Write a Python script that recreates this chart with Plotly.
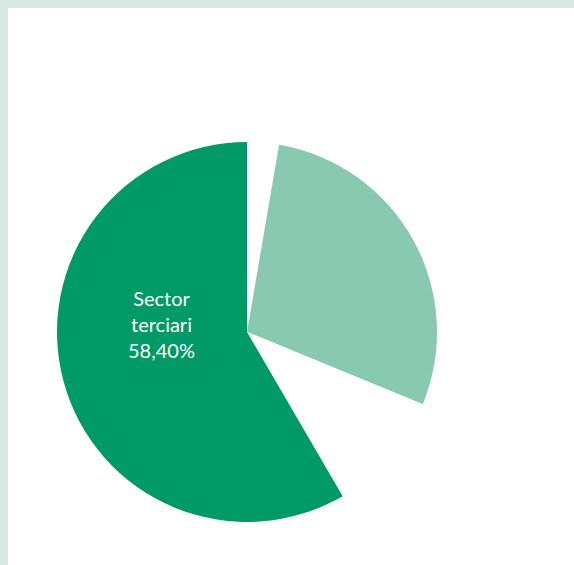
import plotly.graph_objects as go

# sectors, clockwise from 12 o'clock
labels = ["Sector primari", "Indústria", "Construcció", "Sector terciari"]
values = [2.70, 28.50, 10.40, 58.40]
colors = ["#ffffff", "#89c9b0", "#ffffff", "#009a66"]

BORDER = "#d6eae2"
W, H = 574, 565

fig = go.Figure(go.Pie(
    labels=labels, values=values, sort=False, direction="clockwise",
    rotation=0,
    marker=dict(colors=colors, line=dict(width=0)),
    textinfo="none",
    domain=dict(x=[57 / W, 437 / W], y=[43 / H, 423 / H]),
    hoverinfo="label+percent",
))

# white card, leaving a light green edge on top and left
fig.add_shape(type="rect", xref="paper", yref="paper",
              x0=8 / W, x1=1, y0=0, y1=1 - 8 / H,
              fillcolor="white", line=dict(width=0), layer="below")

# label for the main slice, placed in its upper-left part
pct = f"{values[-1]:.2f}%".replace(".", ",")
fig.add_annotation(text="Sector<br>terciari<br>" + pct, showarrow=False,
                   x=161 / W, y=1 - 324 / H, xref="paper", yref="paper",
                   xanchor="center", yanchor="middle",
                   font=dict(family="Lato", size=20, color="white"))

fig.update_layout(
    width=W, height=H, showlegend=False,
    paper_bgcolor=BORDER, plot_bgcolor="white",
    margin=dict(t=0, b=0, l=0, r=0),
)

fig.write_html("out.html", config={"displayModeBar": False},
               post_script="document.body.style.margin='0';")
